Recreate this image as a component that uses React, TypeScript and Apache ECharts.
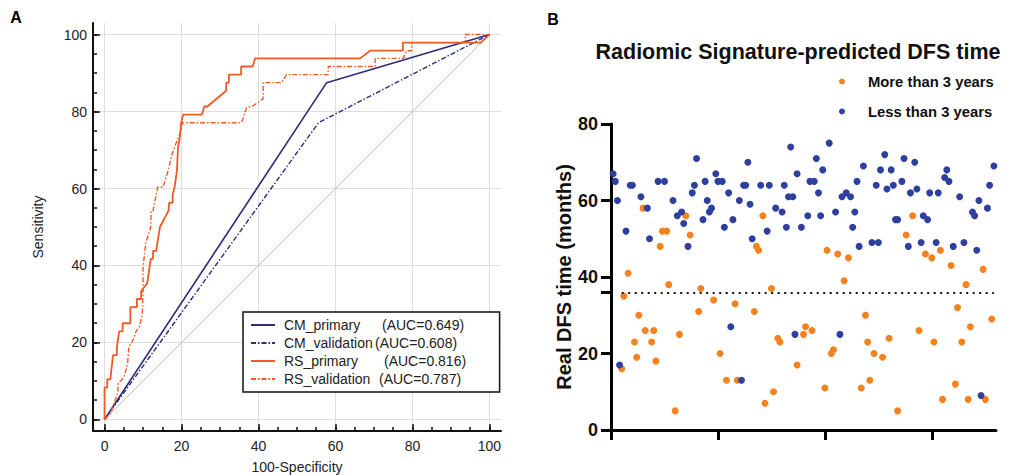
import React, { useEffect, useRef } from "react";
import * as echarts from "echarts";

const FONT = "'Liberation Sans', Arial, Helvetica, sans-serif";

// ---------- Panel A: ROC curves ----------
const rocMajorTicks = [0, 20, 40, 60, 80, 100];
const rocMinorTicks = [0, 5, 10, 15, 20, 25, 30, 35, 40, 45, 50, 55, 60, 65, 70, 75, 80, 85, 90, 95, 100];
const rocNames = ["CM_primary", "CM_validation", "RS_primary", "RS_validation"];
const rocAuc = ["(AUC=0.649)", "(AUC=0.608)", "(AUC=0.816)", "(AUC=0.787)"];
const rocNameWidths = [98, 91, 100, 95];

const diagonal = [[0, 0], [100, 100]];
const cmPrimary = [[0, 0], [57.7, 87.5], [100, 100]];
const cmValidation = [[0, 0], [55.6, 77.1], [100, 100]];
const rsPrimary = [
  [0, 0], [0, 8.3], [0.7, 8.3], [0.7, 10.4], [1.5, 10.4], [2.2, 16.7], [3.2, 16.7], [3.2, 18.8],
  [3.8, 22.9], [4.7, 22.9], [4.7, 25], [6.7, 25], [6.7, 29.2], [8.4, 29.2], [8.4, 31.3], [9.5, 31.3],
  [9.5, 33.3], [11.1, 35.4], [12, 41.7], [12.6, 41.7], [12.6, 43.8], [13.4, 43.8], [14.4, 50],
  [16.6, 54.2], [16.8, 56.3], [17.7, 56.3], [17.7, 58.3], [18.2, 60.4], [18.8, 64.6], [19.1, 70.8],
  [19.5, 72.9], [19.9, 77.1], [20.4, 79.2], [25.3, 79.2], [25.9, 81.3], [26.7, 81.3], [31.6, 85.4],
  [31.6, 87.5], [32.3, 87.5], [32.3, 89.6], [35.5, 89.6], [35.5, 91.7], [38.5, 91.7], [39.1, 93.8],
  [66.4, 93.8], [69, 95.8], [77.5, 95.8], [77.5, 97.9], [97.7, 97.9], [100, 100]
];
const rsValidation = [
  [0, 0], [1.5, 1.5], [2.5, 4.2], [3.5, 7.3], [3.5, 9.4], [4.6, 10.4], [5.2, 11.5], [6, 14.6],
  [6.3, 18.8], [7.5, 20.8], [8.2, 22.9], [9, 24], [9.8, 27.1], [10, 33.3], [10, 39.6], [10.7, 45.8],
  [12, 50], [12.1, 54.2], [12.6, 54.2], [13.8, 60.4], [15.2, 60.4], [16.5, 64.6], [17.5, 68.8],
  [19, 72.9], [19.9, 75], [20.2, 77.1], [35.6, 77.1], [36.9, 81], [38.6, 81.5], [41.2, 83.3],
  [41.2, 87.5], [46, 87.5], [47.3, 89.6], [58.1, 89.6], [58.1, 91.7], [70.3, 91.7], [70.3, 93.8],
  [77.6, 93.8], [78.5, 95.8], [79.8, 95.8], [79.8, 97.9], [93.7, 97.9], [93.7, 100], [100, 100]
];

// ---------- Panel B: scatter ----------
const dfsYTicks = [0, 20, 36, 40, 60, 80];
const dfsYLabels = [0, 20, 40, 60, 80];
const dfsXTicks = [0, 50, 100, 150];
const threshold = 36;
const moreThan3 = [
  [5, 16], [6, 35], [8, 41], [11, 23], [12, 19], [13, 30], [15, 58], [16, 26], [19, 23], [20, 26],
  [21, 18], [23, 48], [24, 52], [26, 52], [27, 38], [30, 5], [32, 25], [35, 56], [37, 51], [41, 31],
  [42, 37], [48, 34], [51, 20], [54, 13], [58, 33], [59, 13], [67, 31], [68, 48], [69, 47], [71, 56],
  [72, 7], [75, 37], [76, 10], [78, 24], [79, 23], [87, 17], [90, 25], [91, 27], [94, 26], [100, 11],
  [101, 47], [103, 20], [104, 21], [106, 46], [109, 39], [111, 45], [117, 11], [119, 30], [120, 23],
  [121, 13], [123, 20], [127, 19], [130, 24], [134, 5], [138, 51], [141, 56], [144, 26], [147, 46],
  [150, 45], [151, 23], [154, 47], [155, 8], [159, 43], [161, 12], [162, 32], [164, 23], [166, 38],
  [167, 8], [168, 27], [174, 42], [175, 8], [178, 29]
];
const lessThan3 = [
  [1, 67], [2, 65], [3, 60], [4, 17], [7, 52], [9, 64], [10, 64], [14, 61], [17, 58], [18, 50],
  [22, 65], [25, 65], [29, 60], [31, 56], [33, 57], [34, 54], [36, 48], [38, 62], [39, 64], [40, 71],
  [43, 55], [44, 65], [45, 60], [46, 57], [47, 58], [49, 67], [50, 65], [52, 65], [53, 53], [55, 62],
  [56, 27], [57, 55], [60, 60], [61, 13], [62, 64], [63, 64], [64, 70], [65, 59], [66, 50], [70, 64],
  [73, 52], [74, 64], [77, 58], [80, 57], [81, 64], [82, 53], [83, 61], [84, 74], [85, 61], [86, 25],
  [87, 67], [89, 53], [92, 56], [93, 65], [95, 65], [96, 71], [97, 62], [98, 56], [99, 68], [102, 75],
  [105, 57], [107, 25], [108, 61], [110, 62], [112, 61], [113, 53], [114, 57], [115, 65], [116, 48],
  [118, 69], [122, 49], [124, 64], [125, 49], [126, 68], [128, 72], [129, 63], [131, 68], [132, 64],
  [133, 55], [134, 55], [136, 65], [137, 71], [139, 48], [140, 62], [142, 70], [143, 63], [145, 49],
  [146, 56], [148, 55], [149, 62], [152, 49], [153, 62], [156, 66], [157, 68], [158, 65], [160, 48],
  [163, 61], [165, 49], [169, 57], [170, 56], [171, 47], [172, 60], [173, 9], [176, 58], [177, 64],
  [179, 69]
];

const NAVY = "#2c2b7d";
const ORANGE = "#f05a23";
const DOT_ORANGE = "#f4821f";
const DOT_BLUE = "#2f3f9f";

export default function App() {
  const ref = useRef<HTMLDivElement>(null);
  useEffect(() => {
    document.body.style.margin = "0";
    const chart = echarts.init(ref.current!, null, { renderer: "svg" });
    const labelA = { fontFamily: FONT, fontSize: 14, color: "#222" };
    const rich: any = { a: { fontFamily: FONT, fontSize: 14, color: "#222" } };
    rocNameWidths.forEach((w, i) => {
      rich["n" + i] = { fontFamily: FONT, fontSize: 14, color: "#222", width: w };
    });
    const option: any = {
      animation: false,
      backgroundColor: "#fff",
      grid: [
        { left: 93, top: 23, width: 408, height: 408, outerBoundsMode: "none", containLabel: false },
        { left: 611, right: 13, top: 124, bottom: 45, outerBoundsMode: "none", containLabel: false }
      ],
      xAxis: [
        {
          type: "value", gridIndex: 0, position: "bottom", min: -3, max: 103,
          axisLine: { show: true, onZero: false, lineStyle: { color: "#111", width: 2 } },
          axisTick: { show: true, inside: true, length: 4, customValues: rocMinorTicks, lineStyle: { color: "#111", width: 1.5 } },
          axisLabel: { show: true, customValues: rocMajorTicks, margin: 8, ...labelA },
          splitLine: { show: false },
          name: "100-Specificity", nameLocation: "middle", nameGap: 29,
          nameTextStyle: { fontFamily: FONT, fontSize: 14, color: "#222" }
        },
        {
          type: "value", gridIndex: 0, position: "bottom", min: -3, max: 103,
          axisLine: { show: false, onZero: false },
          axisTick: { show: true, inside: true, length: 7, customValues: rocMajorTicks, lineStyle: { color: "#111", width: 1.5 } },
          axisLabel: { show: false },
          splitLine: { show: true, lineStyle: { color: "#dedede", width: 1 } }
        },
        {
          type: "value", gridIndex: 1, position: "bottom", min: 0, max: 180,
          axisLine: { show: true, onZero: false, lineStyle: { color: "#000", width: 3 } },
          axisTick: { show: true, inside: false, length: 10, customValues: dfsXTicks, lineStyle: { color: "#000", width: 3 } },
          axisLabel: { show: false },
          splitLine: { show: false }
        }
      ],
      yAxis: [
        {
          type: "value", gridIndex: 0, position: "left", min: -3, max: 103,
          axisLine: { show: true, onZero: false, lineStyle: { color: "#111", width: 2 } },
          axisTick: { show: true, inside: true, length: 4, customValues: rocMinorTicks, lineStyle: { color: "#111", width: 1.5 } },
          axisLabel: { show: true, customValues: rocMajorTicks, margin: 6, ...labelA },
          splitLine: { show: false },
          name: "Sensitivity", nameLocation: "middle", nameGap: 48,
          nameTextStyle: { fontFamily: FONT, fontSize: 14, color: "#222" }
        },
        {
          type: "value", gridIndex: 0, position: "left", min: -3, max: 103,
          axisLine: { show: false, onZero: false },
          axisTick: { show: true, inside: true, length: 7, customValues: rocMajorTicks, lineStyle: { color: "#111", width: 1.5 } },
          axisLabel: { show: false },
          splitLine: { show: true, lineStyle: { color: "#dedede", width: 1 } }
        },
        {
          type: "value", gridIndex: 1, position: "left", min: 0, max: 80,
          axisLine: { show: true, onZero: false, lineStyle: { color: "#000", width: 3 } },
          axisTick: { show: true, inside: false, length: 10, customValues: dfsYTicks, lineStyle: { color: "#000", width: 3 } },
          axisLabel: { show: true, customValues: dfsYLabels, margin: 13, fontFamily: FONT, fontSize: 18, fontWeight: "bold", color: "#111" },
          splitLine: { show: false },
          name: "Real DFS time (months)", nameLocation: "middle", nameGap: 37,
          nameTextStyle: { fontFamily: FONT, fontSize: 20, fontWeight: "bold", color: "#111" }
        }
      ],
      legend: [
        {
          data: rocNames,
          orient: "vertical", left: 243, top: 312,
          padding: [4, 33.5, 4, 7], itemGap: 0, itemWidth: 24, itemHeight: 14,
          borderColor: "#111", borderWidth: 1.5, borderRadius: 0, backgroundColor: "#fff",
          selectedMode: false,
          itemStyle: { opacity: 0 },
          textStyle: { fontFamily: FONT, fontSize: 14, color: "#222", lineHeight: 18, padding: [0, 0, 0, 4], rich },
          formatter: (name: string) => {
            const i = rocNames.indexOf(name);
            return `{n${i}|${name}}{a|${rocAuc[i]}}`;
          }
        },
        {
          data: ["More than 3 years", "Less than 3 years"],
          orient: "vertical", left: 839, top: 73,
          padding: 0, itemGap: 13, itemWidth: 6, itemHeight: 6, icon: "circle",
          selectedMode: false,
          textStyle: { fontFamily: FONT, fontSize: 14.8, fontWeight: "bold", color: "#111", lineHeight: 17, padding: [0, 0, 0, 18] }
        }
      ],
      graphic: [
        { type: "text", x: 16, y: 17, style: { text: "A", fontFamily: FONT, fontSize: 16, fontWeight: "bold", fill: "#000", textAlign: "center", textVerticalAlign: "middle" } },
        { type: "text", x: 553, y: 19, style: { text: "B", fontFamily: FONT, fontSize: 16, fontWeight: "bold", fill: "#000", textAlign: "center", textVerticalAlign: "middle" } },
        { type: "text", x: 798, y: 52, style: { text: "Radiomic Signature-predicted DFS time", fontFamily: FONT, fontSize: 21.5, fontWeight: "bold", fill: "#111", textAlign: "center", textVerticalAlign: "middle" } }
      ],
      series: [
        {
          name: "reference", type: "line", xAxisIndex: 0, yAxisIndex: 0, data: diagonal, symbol: "none",
          lineStyle: { color: "#c9bcbc", width: 1 }, silent: true, z: 1
        },
        {
          name: rocNames[0], type: "line", xAxisIndex: 0, yAxisIndex: 0, data: cmPrimary, symbol: "none",
          lineStyle: { color: NAVY, width: 1.6 }, itemStyle: { color: NAVY }, z: 3
        },
        {
          name: rocNames[1], type: "line", xAxisIndex: 0, yAxisIndex: 0, data: cmValidation, symbol: "none",
          lineStyle: { color: NAVY, width: 1.4, type: [5, 2, 1.5, 2] }, itemStyle: { color: NAVY }, z: 3
        },
        {
          name: rocNames[2], type: "line", xAxisIndex: 0, yAxisIndex: 0, data: rsPrimary, symbol: "none",
          lineStyle: { color: ORANGE, width: 1.8 }, itemStyle: { color: ORANGE }, z: 4
        },
        {
          name: rocNames[3], type: "line", xAxisIndex: 0, yAxisIndex: 0, data: rsValidation, symbol: "none",
          lineStyle: { color: ORANGE, width: 1.4, type: [5, 2, 1.5, 2] }, itemStyle: { color: ORANGE }, z: 4
        },
        {
          name: "More than 3 years", type: "scatter", xAxisIndex: 2, yAxisIndex: 2, data: moreThan3,
          symbol: "circle", symbolSize: 7, itemStyle: { color: DOT_ORANGE, opacity: 1 },
          markLine: {
            silent: true, symbol: "none", label: { show: false },
            lineStyle: { color: "#111", width: 2, type: [2, 4.5] },
            data: [[{ coord: [5, threshold] }, { coord: [179, threshold] }]]
          }
        },
        {
          name: "Less than 3 years", type: "scatter", xAxisIndex: 2, yAxisIndex: 2, data: lessThan3,
          symbol: "circle", symbolSize: 7, itemStyle: { color: DOT_BLUE, opacity: 1 }
        }
      ]
    };
    chart.setOption(option);
    return () => chart.dispose();
  }, []);
  return <div ref={ref} style={{ width: 1009, height: 475 }} />;
}
